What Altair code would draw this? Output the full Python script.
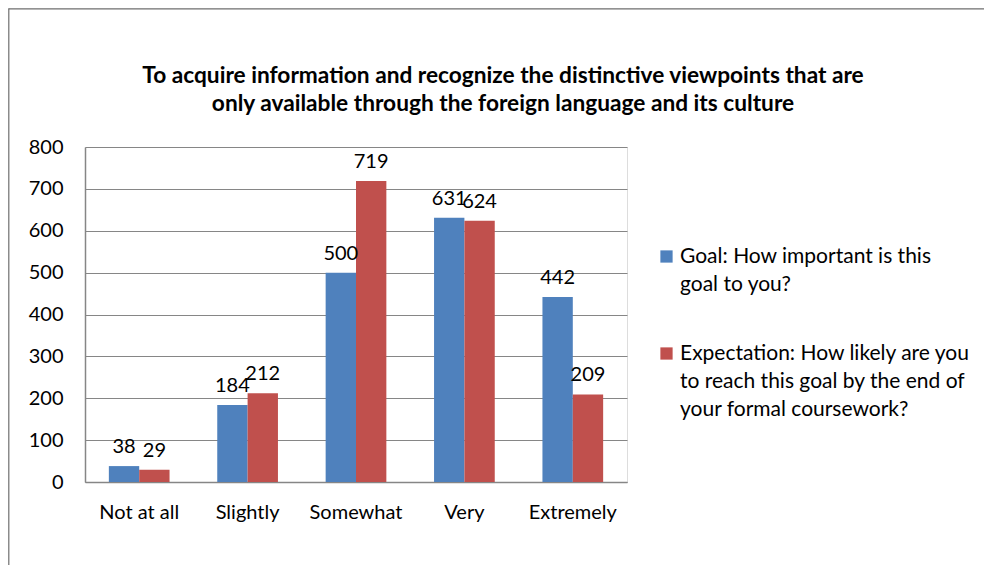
import altair as alt
import pandas as pd

categories = ["Not at all", "Slightly", "Somewhat", "Very", "Extremely"]
series = [
    "Goal: How important is this\ngoal to you?",
    "Expectation: How likely are you\nto reach this goal by the end of\nyour formal coursework?",
]
goal = [38, 184, 500, 631, 442]
expectation = [29, 212, 719, 624, 209]
colors = ["#4F81BD", "#C0504D"]
title_lines = [
    "To acquire information and recognize the distinctive viewpoints that are",
    "only available through the foreign language and its culture",
]

rows = []
for i, c in enumerate(categories):
    rows.append({"cat": c, "series": series[0], "value": goal[i]})
    rows.append({"cat": c, "series": series[1], "value": expectation[i]})
df = pd.DataFrame(rows)

FONT = "Lato"
W, H = 542, 335
PAD_L, PAD_T, PAD_R, PAD_B = 77, 139, 357, 83

x = alt.X("cat:N", sort=categories, title=None,
          scale=alt.Scale(paddingInner=0.44, paddingOuter=0.22),
          axis=alt.Axis(labelAngle=0, labelFontSize=20, labelFont=FONT, labelColor="#000000",
                        ticks=False, labelPadding=20, domainColor="#868686", domainWidth=1.5,
                        grid=False))
y = alt.Y("value:Q", title=None,
          scale=alt.Scale(domain=[0, 800], nice=False),
          axis=alt.Axis(values=list(range(0, 801, 100)), labelFontSize=20, labelFont=FONT,
                        labelColor="#000000", ticks=False, labelPadding=22,
                        gridColor="#868686", gridWidth=1, domainColor="#868686",
                        domainWidth=1.5))
color = alt.Color("series:N", sort=series, title=None,
                  scale=alt.Scale(domain=series, range=colors),
                  legend=alt.Legend(orient="none", legendX=571, legendY=99,
                                    symbolType="square", symbolSize=150, symbolStrokeWidth=0,
                                    labelFontSize=21, labelFont=FONT, labelColor="#000000",
                                    labelLimit=500, rowPadding=47, labelOffset=3,
                                    labelExpr="split(datum.label, '\\n')",
                                    labelBaseline="middle"))

base = alt.Chart(df)
bars = base.mark_bar().encode(
    x=x, y=y, color=color,
    xOffset=alt.XOffset("series:N", sort=series),
)
labels = base.mark_text(fontSize=20, font=FONT, color="#000000", baseline="alphabetic", dy=-13).encode(
    x=alt.X("cat:N", sort=categories),
    y="value:Q",
    xOffset=alt.XOffset("series:N", sort=series),
    text="value:Q",
)

border_df = pd.DataFrame({"k": [0]})
top_border = alt.Chart(border_df).mark_rule(color="#6e6e6e", strokeWidth=1.2).encode(
    x=alt.value(-PAD_L + 0.5), x2=alt.value(W + PAD_R), y=alt.value(-PAD_T + 0.8))
left_border = alt.Chart(border_df).mark_rule(color="#6e6e6e", strokeWidth=1.2).encode(
    x=alt.value(-PAD_L + 0.8), y=alt.value(-PAD_T + 0.5), y2=alt.value(H + PAD_B))

chart = alt.layer(bars, labels, top_border, left_border).properties(
    width=W, height=H,
    title=alt.TitleParams(title_lines, anchor="middle", fontSize=22.7, font=FONT,
                          fontWeight="bold", color="#000000", dx=147, offset=-108,
                          lineHeight=28),
    autosize=alt.AutoSizeParams(type="none"),
    padding={"left": PAD_L, "top": PAD_T, "right": PAD_R, "bottom": PAD_B},
).configure_view(stroke=None).configure(style={"guide-label": {"lineHeight": 28}})

chart.save("out.html", embed_options={"renderer": "svg", "actions": False})
